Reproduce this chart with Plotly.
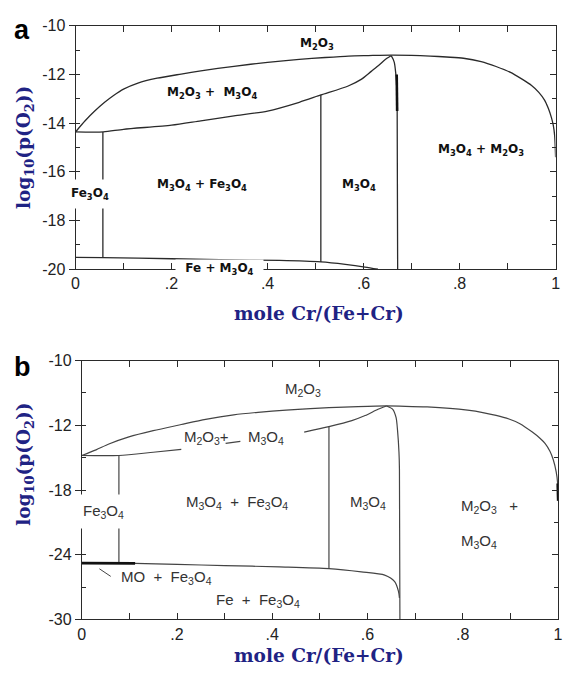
import plotly.graph_objects as go

# ---------------- Panel a data ----------------
a_upper_x = [0, 0.02, 0.04, 0.06, 0.08, 0.1, 0.13, 0.17, 0.22, 0.261, 0.33, 0.4, 0.466, 0.52, 0.569,
             0.61, 0.657, 0.70, 0.739, 0.773, 0.808, 0.845, 0.876, 0.905, 0.931, 0.95, 0.965, 0.977,
             0.985, 0.991, 0.995, 0.998, 1.0]
a_upper_y = [-14.36, -13.9, -13.5, -13.15, -12.85, -12.6, -12.35, -12.15, -11.98, -11.85, -11.66, -11.5,
             -11.38, -11.3, -11.24, -11.22, -11.2, -11.21, -11.24, -11.28, -11.33, -11.47, -11.67, -11.9,
             -12.2, -12.45, -12.73, -13.05, -13.4, -13.75, -14.07, -14.5, -15.4]
a_lower_x = [0, 0.058, 0.1, 0.2, 0.261, 0.33, 0.4, 0.466, 0.511, 0.568, 0.595, 0.616, 0.633, 0.644, 0.657]
a_lower_y = [-14.36, -14.36, -14.25, -14.08, -13.9, -13.7, -13.5, -13.14, -12.84, -12.47, -12.2, -11.87,
             -11.6, -11.4, -11.23]
a_fe3o4_x = [0.057, 0.057]
a_fe3o4_y = [-14.36, -19.51]
a_mid_x = [0.511, 0.511]
a_mid_y = [-12.84, -19.7]
a_m3o4_x = [0.657, 0.659, 0.664, 0.667, 0.669, 0.670, 0.671]
a_m3o4_y = [-11.23, -11.27, -11.5, -11.94, -12.5, -13.5, -20.0]
a_thick_x = [0.669, 0.670]
a_thick_y = [-12.0, -13.5]
a_bottom_x = [0, 0.057, 0.2, 0.3, 0.425, 0.511, 0.562, 0.603, 0.63]
a_bottom_y = [-19.51, -19.52, -19.57, -19.61, -19.64, -19.7, -19.8, -19.91, -20.0]

a_label_text = ["M<sub>2</sub>O<sub>3</sub>", "M<sub>2</sub>O<sub>3</sub> +  M<sub>3</sub>O<sub>4</sub>",
                "M<sub>3</sub>O<sub>4</sub> + Fe<sub>3</sub>O<sub>4</sub>", "M<sub>3</sub>O<sub>4</sub>",
                "M<sub>3</sub>O<sub>4</sub> + M<sub>2</sub>O<sub>3</sub>"]
a_label_x = [0.502, 0.284, 0.264, 0.59, 0.844]
a_label_y = [-10.75, -12.76, -16.54, -16.54, -15.1]

# ---------------- Panel b data ----------------
b_upper_x = [0, 0.03, 0.057, 0.099, 0.15, 0.209, 0.26, 0.319, 0.37, 0.429, 0.48, 0.519, 0.58, 0.64,
             0.68, 0.725, 0.773, 0.81, 0.842, 0.87, 0.897, 0.92, 0.946, 0.962, 0.973, 0.983, 0.99,
             0.996, 0.999, 1.0]
b_upper_y = [-14.8, -14.28, -13.74, -13.08, -12.5, -11.93, -11.45, -11.03, -10.8, -10.6, -10.45, -10.37,
             -10.27, -10.21, -10.24, -10.3, -10.43, -10.6, -10.82, -11.08, -11.42, -11.85, -12.63,
             -13.2, -13.69, -14.4, -15.19, -16.3, -17.3, -19.0]
b_lower_x = [0, 0.078, 0.15, 0.209, None, 0.302, 0.333, None, 0.467, 0.519, 0.567, 0.595, 0.622, 0.64]
b_lower_y = [-14.8, -14.8, -14.5, -14.23, None, -13.68, -13.49, None, -12.63, -12.12, -11.57, -11.1,
             -10.52, -10.21]
b_fe3o4_x = [0.078, 0.078]
b_fe3o4_y = [-14.8, -24.77]
b_mid_x = [0.519, 0.519]
b_mid_y = [-12.12, -25.29]
b_m3o4_x = [0.64, 0.653, 0.66, 0.663, 0.666, 0.667, 0.668]
b_m3o4_y = [-10.21, -10.52, -11.3, -12.47, -14.5, -16.1, -30.0]
b_bottom_x = [0, 0.112, 0.2, 0.3, 0.415, 0.519, 0.587, 0.636, 0.657, 0.665, 0.667]
b_bottom_y = [-24.77, -24.8, -24.9, -25.0, -25.13, -25.29, -25.59, -25.89, -26.49, -27.4, -28.0]
b_thick_x = [0, 0.112]
b_thick_y = [-24.77, -24.8]
b_thick_end_x = [0.999, 1.0]
b_thick_end_y = [-17.4, -19.0]

b_label_text = ["M<sub>2</sub>O<sub>3</sub>", "M<sub>2</sub>O<sub>3</sub>+", "M<sub>3</sub>O<sub>4</sub>",
                "M<sub>3</sub>O<sub>4</sub>  +  Fe<sub>3</sub>O<sub>4</sub>", "M<sub>3</sub>O<sub>4</sub>",
                "M<sub>2</sub>O<sub>3</sub>   +", "M<sub>3</sub>O<sub>4</sub>",
                "Fe  +  Fe<sub>3</sub>O<sub>4</sub>"]
b_label_x = [0.464, 0.261, 0.386, 0.326, 0.60, 0.793, 0.793, 0.371]
b_label_y = [-8.7, -13.1, -13.1, -19.2, -19.2, -19.5, -22.8, -28.2]

# tick labels
x_tickvals = [0, 0.2, 0.4, 0.6, 0.8, 1.0]
x_ticktext = ["0", ".2", ".4", ".6", ".8", "1"]
a_ytickvals = [-10, -12, -14, -16, -18, -20]
a_yticktext = ["-10", "-12", "-14", "-16", "-18", "-20"]
b_ytickvals = [-6, -12, -18, -24, -30]
b_yticktext = ["-10", "-12", "-18", "-24", "-30"]

LINE = "#2a2a2a"
NAVY = "#1f2384"

fig = go.Figure()


def add_line(x, y, xa, ya, width=1.3, color=LINE, shape="spline"):
    fig.add_trace(go.Scatter(x=x, y=y, mode="lines", xaxis=xa, yaxis=ya,
                             line=dict(color=color, width=width, shape=shape, smoothing=0.7),
                             hoverinfo="skip", showlegend=False, connectgaps=False))


for xs, ys in [(a_upper_x, a_upper_y), (a_lower_x, a_lower_y), (a_m3o4_x, a_m3o4_y),
               (a_bottom_x, a_bottom_y)]:
    add_line(xs, ys, "x", "y")
for xs, ys in [(a_fe3o4_x, a_fe3o4_y), (a_mid_x, a_mid_y)]:
    add_line(xs, ys, "x", "y", shape="linear")
# thick segment drawn on the right-hand overlay axis (same range) so that axis is rendered
add_line(a_thick_x, a_thick_y, "x", "y3", width=2.6, color="#111", shape="linear")

for xs, ys in [(b_upper_x, b_upper_y), (b_lower_x, b_lower_y), (b_m3o4_x, b_m3o4_y),
               (b_bottom_x, b_bottom_y)]:
    add_line(xs, ys, "x2", "y2", width=1.2, color="#444")
for xs, ys in [(b_fe3o4_x, b_fe3o4_y), (b_mid_x, b_mid_y)]:
    add_line(xs, ys, "x2", "y2", width=1.2, color="#444", shape="linear")
add_line(b_thick_x, b_thick_y, "x2", "y4", width=2.8, color="#111", shape="linear")
add_line(b_thick_end_x, b_thick_end_y, "x2", "y4", width=2.4, color="#111", shape="linear")

tickfont = dict(family="Liberation Sans, Arial, sans-serif", size=16, color="#222")

xcommon = dict(range=[0, 1], tickvals=x_tickvals, ticktext=x_ticktext, ticks="inside", ticklen=6,
               tickwidth=1, tickcolor=LINE, showline=True, linecolor=LINE, linewidth=1, mirror="allticks",
               showgrid=False, zeroline=False, tickfont=tickfont,
               minor=dict(ticks="inside", ticklen=4, dtick=0.1, tick0=0, tickcolor=LINE, tickwidth=1,
                          showgrid=False))

fig.update_layout(
    width=566, height=674,
    margin=dict(l=0, r=0, t=0, b=0),
    paper_bgcolor="white", plot_bgcolor="white",
    xaxis=dict(domain=[0.1284, 0.9903], anchor="y", **xcommon),
    yaxis=dict(domain=[0.6024, 0.9728], anchor="x", range=[-20, -10], tickvals=a_ytickvals,
               ticktext=a_yticktext, ticks="outside", ticklen=6, tickwidth=1, tickcolor=LINE, showline=True,
               linecolor=LINE, linewidth=1, mirror=True, showgrid=False, zeroline=False, tickfont=tickfont,
               minor=dict(ticks="inside", ticklen=4, dtick=1, tick0=-20, tickcolor=LINE, tickwidth=1,
                          showgrid=False)),
    yaxis3=dict(overlaying="y", side="right", anchor="x", range=[-20, -10], tickvals=a_ytickvals,
                ticks="inside", ticklen=6, tickwidth=1, tickcolor=LINE, showticklabels=False, showline=False,
                showgrid=False, zeroline=False,
                minor=dict(ticks="inside", ticklen=4, dtick=1, tick0=-20, tickcolor=LINE, tickwidth=1,
                           showgrid=False)),
    xaxis2=dict(domain=[0.1396, 0.9947], anchor="y2", **xcommon),
    yaxis2=dict(domain=[0.0693, 0.4634], anchor="x2", range=[-30, -6], tickvals=b_ytickvals,
                ticktext=b_yticktext, ticks="outside", ticklen=6, tickwidth=1, tickcolor=LINE, showline=True,
                linecolor=LINE, linewidth=1, mirror=True, showgrid=False, zeroline=False, tickfont=tickfont,
                minor=dict(ticks="inside", ticklen=4, dtick=3, tick0=-30, tickcolor=LINE, tickwidth=1,
                           showgrid=False)),
    yaxis4=dict(overlaying="y2", side="right", anchor="x2", range=[-30, -6], tickvals=b_ytickvals,
                ticks="inside", ticklen=6, tickwidth=1, tickcolor=LINE, showticklabels=False, showline=False,
                showgrid=False, zeroline=False,
                minor=dict(ticks="inside", ticklen=4, dtick=3, tick0=-30, tickcolor=LINE, tickwidth=1,
                           showgrid=False)),
)

ann = []
afont = dict(family="DejaVu Sans, Verdana, sans-serif", size=12, color="#111", weight="bold")
for t, x, y in zip(a_label_text, a_label_x, a_label_y):
    ann.append(dict(text=t, x=x, y=y, xref="x", yref="y", showarrow=False, font=afont,
                    xanchor="center", yanchor="middle"))
# labels with white background (cover lines)
ann.append(dict(text="Fe<sub>3</sub>O<sub>4</sub>", x=0.03, y=-16.9, xref="x", yref="y", showarrow=False,
                font=afont, bgcolor="white", borderpad=6, xanchor="center", yanchor="middle"))
ann.append(dict(text="&nbsp;&nbsp;Fe + M<sub>3</sub>O<sub>4</sub>&nbsp;&nbsp;", x=0.299, y=-20.0, xref="x",
                yref="y", showarrow=False, font=afont, bgcolor="white", borderpad=1,
                xanchor="center", yanchor="middle"))

bfont = dict(family="Liberation Sans, Arial, sans-serif", size=15, color="#333")
for t, x, y in zip(b_label_text, b_label_x, b_label_y):
    ann.append(dict(text=t, x=x, y=y, xref="x2", yref="y2", showarrow=False, font=bfont,
                    xanchor="left" if x > 0.7 else "center", yanchor="middle"))
ann.append(dict(text="Fe<sub>3</sub>O<sub>4</sub>", x=0.045, y=-20.0, xref="x2", yref="y2", showarrow=False,
                font=bfont, bgcolor="white", borderpad=7, xanchor="center", yanchor="middle"))
ann.append(dict(text="MO  +  Fe<sub>3</sub>O<sub>4</sub>", x=0.078, y=-26.1, xref="x2", yref="y2",
                showarrow=False, font=bfont, xanchor="left", yanchor="middle"))
ann.append(dict(text="", x=0.037, y=-25.3, ax=0.064, ay=-26.1, xref="x2", yref="y2", axref="x2", ayref="y2",
                showarrow=True, arrowhead=0, arrowwidth=1, arrowcolor="#444"))

tfont = dict(family="DejaVu Serif, Liberation Serif, serif", size=18.5, color=NAVY, weight="bold")
ann.append(dict(text="mole Cr/(Fe+Cr)", x=320 / 566, y=1 - 313 / 674, xref="paper", yref="paper",
                showarrow=False, font=tfont, xanchor="center", yanchor="middle"))
ann.append(dict(text="mole Cr/(Fe+Cr)", x=320 / 566, y=1 - 664 / 674, xref="paper", yref="paper",
                showarrow=False, font=tfont, xanchor="center", yanchor="middle"))
ann.append(dict(text="log<sub>10</sub>(p(O<sub>2</sub>))", x=22 / 566, y=1 - 143 / 674, xref="paper",
                yref="paper", showarrow=False, font=tfont, textangle=-90, xanchor="center", yanchor="middle"))
ann.append(dict(text="log<sub>10</sub>(p(O<sub>2</sub>))", x=22 / 566, y=1 - 468 / 674, xref="paper",
                yref="paper", showarrow=False, font=tfont, textangle=-90, xanchor="center", yanchor="middle"))

pfont = dict(family="Liberation Sans, Arial, sans-serif", size=27, color="#000", weight="bold")
ann.append(dict(text="a", x=18.5 / 566, y=1 - 23 / 674, xref="paper", yref="paper", showarrow=False,
                font=pfont, xanchor="center", yanchor="middle"))
ann.append(dict(text="b", x=19 / 566, y=1 - 368 / 674, xref="paper", yref="paper", showarrow=False,
                font=pfont, xanchor="center", yanchor="middle"))

fig.update_layout(annotations=ann)
fig.write_html("out.html")
